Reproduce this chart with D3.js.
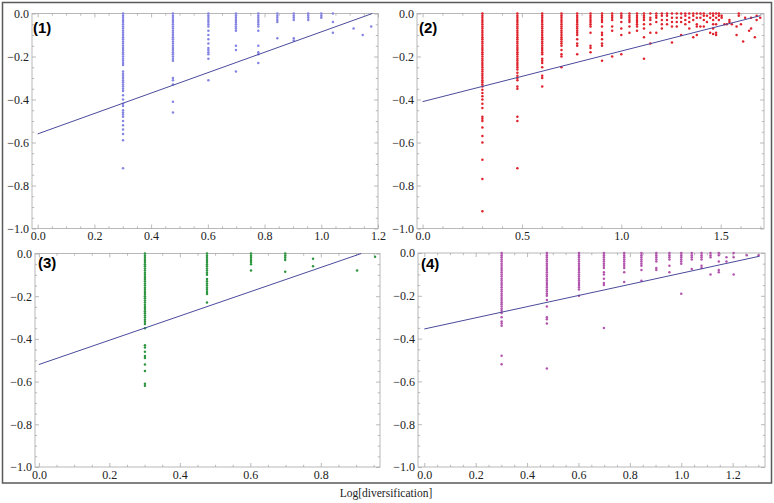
<!DOCTYPE html>
<html><head><meta charset="utf-8">
<script src="https://cdn.jsdelivr.net/npm/d3@7"></script>
<style>body{margin:0;background:#fff}svg{display:block}
.ax text{font-family:"Liberation Serif","Times New Roman",serif !important;font-size:12px;}</style>
</head><body>
<svg id="c" width="774" height="503"></svg>
<script>
// ---------- DATA ----------
// Panel (1)
const x1 = [0.301, 0.477, 0.602, 0.699, 0.778, 0.845, 0.903, 0.954, 1.0, 1.041, 1.114, 1.146, 1.176];
const y1 = [
  [0,-.01,-.02,-.03,-.04,-.05,-.06,-.07,-.08,-.09,-.10,-.11,-.12,-.13,-.14,-.15,-.16,-.17,-.18,-.19,-.20,-.21,-.22,-.23,-.24,-.27,-.28,-.29,-.30,-.31,-.32,-.33,-.34,-.35,-.36,-.38,-.40,-.42,-.43,-.45,-.46,-.47,-.48,-.50,-.52,-.54,-.56,-.59,-.72],
  [0,-.01,-.02,-.03,-.04,-.05,-.06,-.07,-.08,-.09,-.10,-.11,-.12,-.13,-.14,-.15,-.16,-.17,-.18,-.19,-.20,-.21,-.22,-.30,-.31,-.33,-.41,-.46],
  [0,-.01,-.02,-.03,-.04,-.05,-.06,-.08,-.10,-.12,-.14,-.16,-.17,-.18,-.19,-.21,-.31],
  [0,-.01,-.02,-.03,-.04,-.05,-.06,-.07,-.08,-.15,-.17,-.27],
  [0,-.01,-.02,-.03,-.04,-.05,-.06,-.08,-.15,-.18,-.19,-.23],
  [0,-.01,-.02,-.03,-.04,-.115],
  [0,-.01,-.02,-.03,-.115,-.125],
  [0,-.01,-.02,-.03],
  [0,-.01,-.02],
  [0,-.04,-.09],
  [-.07],
  [-.10],
  [-.06]
];
const fitX1 = [0, 1.18], fitY1 = [-0.56, 0.0];

// Panel (2)
const x2 = [0.301,0.477,0.602,0.699,0.778,0.845,0.903,0.954,1.0,1.041,1.079,1.114,1.146,1.176,1.204,1.230,1.255,1.279,1.301,1.322,1.342,1.362,1.380,1.398,1.415,1.431,1.447,1.462,1.477,1.491,1.505,1.519,1.531,1.544,1.556,1.580,1.591,1.602,1.613,1.623,1.643,1.653,1.672,1.681,1.699];
const y2 = [
  [0,-.01,-.02,-.03,-.04,-.05,-.06,-.07,-.08,-.09,-.10,-.11,-.12,-.13,-.14,-.15,-.16,-.17,-.18,-.19,-.20,-.21,-.22,-.23,-.24,-.25,-.26,-.27,-.28,-.29,-.30,-.31,-.32,-.33,-.34,-.355,-.37,-.385,-.40,-.42,-.44,-.48,-.49,-.50,-.53,-.57,-.60,-.68,-.77,-.92],
  [0,-.01,-.02,-.03,-.04,-.05,-.06,-.07,-.08,-.09,-.10,-.11,-.12,-.13,-.14,-.15,-.16,-.17,-.18,-.19,-.20,-.21,-.22,-.23,-.24,-.25,-.26,-.275,-.29,-.30,-.31,-.34,-.35,-.48,-.50,-.72],
  [0,-.01,-.02,-.03,-.04,-.05,-.06,-.07,-.08,-.09,-.10,-.11,-.12,-.13,-.14,-.15,-.16,-.17,-.18,-.19,-.21,-.22,-.23,-.25,-.29,-.30,-.34],
  [0,-.01,-.02,-.03,-.04,-.05,-.06,-.07,-.08,-.09,-.10,-.11,-.12,-.13,-.14,-.15,-.17,-.19,-.20,-.25],
  [0,-.01,-.02,-.03,-.04,-.05,-.06,-.07,-.08,-.09,-.10,-.12,-.14,-.15,-.19],
  [0,-.01,-.02,-.03,-.04,-.05,-.06,-.09,-.15,-.16,-.18],
  [0,-.01,-.02,-.03,-.04,-.06,-.09,-.10,-.12,-.14,-.15,-.22],
  [0,-.01,-.02,-.03,-.06,-.08,-.20],
  [0,-.01,-.02,-.04,-.07,-.10,-.19],
  [0,-.01,-.02,-.03,-.04,-.06,-.09],
  [0,-.01,-.02,-.03,-.04,-.05,-.06,-.08],
  [0,-.01,-.02,-.03,-.05,-.07,-.11,-.21],
  [0,-.02,-.03,-.05,-.09,-.14],
  [0,-.01,-.02,-.04,-.09],
  [0,-.01,-.03,-.05,-.07],
  [0,-.01,-.03,-.05],
  [0,-.02,-.04,-.06,-.135],
  [0,-.02,-.04,-.06],
  [0,-.02,-.04,-.10],
  [0,-.01,-.03,-.05],
  [0,-.02,-.04,-.07],
  [0,-.01,-.03,-.11],
  [0,-.02,-.05,-.06,-.10],
  [0,-.02,-.06],
  [0,-.01,-.03,-.06],
  [-.01,-.04],
  [0,-.02,-.09],
  [0,-.01,-.03,-.05,-.07,-.095],
  [0,-.02,-.05,-.09,-.10],
  [0,-.01,-.03],
  [-.01,-.02],
  [-.05],
  [-.05],
  [-.03,-.04],
  [-.05],
  [-.06,-.10],
  [0,-.01],
  [-.05],
  [-.13],
  [-.02],
  [-.08],
  [-.02,-.07],
  [-.11],
  [-.01,-.03],
  [-.02]
];
const fitX2 = [0, 1.70], fitY2 = [-0.41, -0.01];

// Panel (3)
const x3 = [0.301, 0.477, 0.602, 0.699, 0.778, 0.903, 0.954];
const y3 = [
  [0,-.01,-.02,-.03,-.04,-.05,-.06,-.07,-.08,-.09,-.10,-.11,-.12,-.13,-.14,-.15,-.16,-.17,-.18,-.19,-.20,-.21,-.22,-.23,-.24,-.25,-.26,-.27,-.28,-.29,-.30,-.31,-.32,-.33,-.35,-.43,-.44,-.46,-.48,-.49,-.52,-.55,-.61,-.62],
  [0,-.01,-.02,-.03,-.04,-.05,-.06,-.07,-.08,-.09,-.10,-.12,-.13,-.14,-.15,-.16,-.17,-.18,-.19,-.23],
  [0,-.01,-.02,-.03,-.04,-.05,-.08],
  [0,-.01,-.02,-.03,-.085],
  [-.025,-.06],
  [-.08],
  [-.015]
];
const fitX3 = [0, 0.915], fitY3 = [-0.52, 0.0];

// Panel (4)
const x4 = [0.301,0.477,0.602,0.699,0.778,0.845,0.903,0.954,1.0,1.041,1.079,1.114,1.146,1.176,1.204,1.255,1.301];
const y4 = [
  [0,-.01,-.02,-.03,-.04,-.05,-.06,-.07,-.08,-.09,-.10,-.11,-.12,-.13,-.14,-.15,-.16,-.17,-.18,-.19,-.20,-.21,-.22,-.23,-.24,-.25,-.26,-.27,-.28,-.30,-.32,-.33,-.34,-.48,-.52],
  [0,-.01,-.02,-.03,-.04,-.05,-.06,-.07,-.08,-.09,-.10,-.11,-.12,-.13,-.14,-.15,-.16,-.17,-.18,-.19,-.20,-.22,-.25,-.30,-.31,-.33,-.54],
  [0,-.01,-.02,-.03,-.04,-.05,-.06,-.07,-.08,-.09,-.10,-.11,-.12,-.13,-.14,-.15,-.16,-.17,-.20],
  [0,-.01,-.02,-.03,-.04,-.05,-.06,-.07,-.09,-.10,-.12,-.14,-.15,-.35],
  [0,-.01,-.02,-.03,-.04,-.05,-.06,-.07,-.09,-.135],
  [0,-.01,-.02,-.03,-.04,-.05,-.06,-.08,-.13],
  [0,-.01,-.02,-.03,-.04,-.07,-.08],
  [0,-.01,-.02,-.03,-.06,-.09],
  [0,-.01,-.02,-.03,-.04,-.05,-.19],
  [0,-.01,-.02,-.03,-.075],
  [0,-.01,-.02,-.03,-.06,-.07],
  [0,-.01,-.02,-.10],
  [0,-.01,-.04,-.08,-.09],
  [-.02,-.04],
  [0,-.02,-.10],
  [-.01],
  [-.01]
];
const fitX4 = [0, 1.305], fitY4 = [-0.355, -0.015];

// Tick labels
const yTicks = [0, -0.2, -0.4, -0.6, -0.8, -1.0];
const xTicks1 = [0, 0.2, 0.4, 0.6, 0.8, 1.0, 1.2];
const xTicks2 = [0, 0.5, 1.0, 1.5];
const xTicks3 = [0, 0.2, 0.4, 0.6, 0.8];
const xTicks4 = [0, 0.2, 0.4, 0.6, 0.8, 1.0, 1.2];
const panelLabels = ["(1)", "(2)", "(3)", "(4)"];
const axisTitle = "Log[diversification]";

// ---------- LAYOUT ----------
const svg = d3.select("#c");
svg.append("rect").attr("x", 2.5).attr("y", 2.5).attr("width", 769).attr("height", 480.5)
  .attr("fill", "none").attr("stroke", "#5a5a5a").attr("stroke-width", 1.5);

const panels = [
  {l: 32, r: 378, t: 13.5, b: 228.5, xd: [-0.02, 1.2], xs: x1, ys: y1, fx: fitX1, fy: fitY1, xt: xTicks1, minor: 0.05, color: "#8484e2", lab: panelLabels[0], lx: 33, ly: 33},
  {l: 417, r: 764, t: 13.5, b: 228.5, xd: [-0.028, 1.718], xs: x2, ys: y2, fx: fitX2, fy: fitY2, xt: xTicks2, minor: 0.1, color: "#e0222c", lab: panelLabels[1], lx: 419, ly: 33},
  {l: 35, r: 380, t: 253.5, b: 467, xd: [-0.011, 0.968], xs: x3, ys: y3, fx: fitX3, fy: fitY3, xt: xTicks3, minor: 0.05, color: "#2e9640", lab: panelLabels[2], lx: 38, ly: 268},
  {l: 418, r: 765, t: 253, b: 467, xd: [-0.0245, 1.326], xs: x4, ys: y4, fx: fitX4, fy: fitY4, xt: xTicks4, minor: 0.05, color: "#b255ae", lab: panelLabels[3], lx: 421, ly: 269}
];

const fmt = d3.format(".1f");
const tickCol = "#a8a8a8";

function styleAxis(sel, labels) {
  sel.attr("class", "ax").attr("font-family", "'Liberation Serif','Times New Roman',serif").attr("font-size", 12);
  sel.select(".domain").remove();
  sel.selectAll(".tick line").attr("stroke", tickCol).attr("stroke-width", 0.8);
  sel.selectAll(".tick text").attr("fill", "#222");
  if (!labels) sel.selectAll(".tick text").remove();
}

panels.forEach(p => {
  const x = d3.scaleLinear().domain(p.xd).range([p.l, p.r]);
  const y = d3.scaleLinear().domain([-1, 0]).range([p.b, p.t]);
  const g = svg.append("g");

  const xMinor = d3.range(0, p.xd[1] + 1e-9, p.minor).map(v => +v.toFixed(3)).filter(v => !p.xt.some(t => Math.abs(t - v) < 1e-6));
  const yMinor = d3.range(0, -1.0001, -0.05).map(v => +v.toFixed(3)).filter(v => !yTicks.some(t => Math.abs(t - v) < 1e-6));

  // frame
  g.append("rect").attr("x", p.l).attr("y", p.t).attr("width", p.r - p.l).attr("height", p.b - p.t)
    .attr("fill", "none").attr("stroke", "#b8b8b8").attr("stroke-width", 1);

  // bottom axis
  g.append("g").attr("transform", `translate(0,${p.b})`)
    .call(d3.axisBottom(x).tickValues(p.xt).tickFormat(fmt).tickSize(-4).tickPadding(3)).call(s => styleAxis(s, true));
  g.append("g").attr("transform", `translate(0,${p.b})`)
    .call(d3.axisBottom(x).tickValues(xMinor).tickSize(-2.2)).call(s => styleAxis(s, false));
  // top mirrored ticks
  g.append("g").attr("transform", `translate(0,${p.t})`)
    .call(d3.axisTop(x).tickValues(p.xt).tickSize(-4)).call(s => styleAxis(s, false));
  g.append("g").attr("transform", `translate(0,${p.t})`)
    .call(d3.axisTop(x).tickValues(xMinor).tickSize(-2.2)).call(s => styleAxis(s, false));
  // left axis
  g.append("g").attr("transform", `translate(${p.l},0)`)
    .call(d3.axisLeft(y).tickValues(yTicks).tickFormat(fmt).tickSize(-4).tickPadding(3)).call(s => styleAxis(s, true));
  g.append("g").attr("transform", `translate(${p.l},0)`)
    .call(d3.axisLeft(y).tickValues(yMinor).tickSize(-2.2)).call(s => styleAxis(s, false));
  // right mirrored ticks
  g.append("g").attr("transform", `translate(${p.r},0)`)
    .call(d3.axisRight(y).tickValues(yTicks).tickSize(-4)).call(s => styleAxis(s, false));
  g.append("g").attr("transform", `translate(${p.r},0)`)
    .call(d3.axisRight(y).tickValues(yMinor).tickSize(-2.2)).call(s => styleAxis(s, false));

  // points
  const pts = [];
  p.xs.forEach((xv, i) => p.ys[i].forEach(yv => pts.push([xv, yv])));
  g.append("g").selectAll("circle").data(pts).join("circle")
    .attr("cx", d => x(d[0])).attr("cy", d => y(d[1])).attr("r", 1.25)
    .attr("fill", p.color);

  // fit line
  const line = d3.line().x(d => x(d[0])).y(d => y(d[1]));
  g.append("path").datum(d3.zip(p.fx, p.fy)).attr("d", line)
    .attr("fill", "none").attr("stroke", "#4a4a9c").attr("stroke-width", 1);

  // panel label
  g.append("text").attr("x", p.lx).attr("y", p.ly).text(p.lab)
    .style("font-family", "'Liberation Sans',Arial,sans-serif").style("font-weight", "bold")
    .style("font-size", "15px").attr("fill", "#000");
});

svg.append("text").attr("x", 386).attr("y", 497).attr("text-anchor", "middle").text(axisTitle)
  .style("font-family", "'Liberation Serif','Times New Roman',serif").style("font-size", "11.5px").attr("fill", "#222");
</script>
</body></html>
